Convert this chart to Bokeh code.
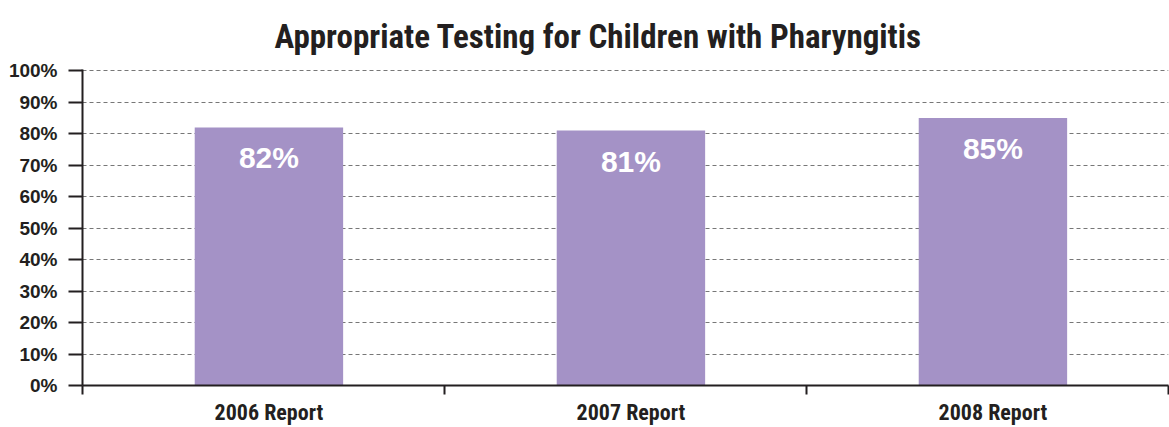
from bokeh.plotting import figure
from bokeh.models import FixedTicker, ColumnDataSource, Range1d, Title
from bokeh.core.properties import value
from bokeh.embed import file_html
from bokeh.resources import INLINE

# ---- data ----
categories = ["2006 Report", "2007 Report", "2008 Report"]
values = [82, 81, 85]
value_labels = ["82%", "81%", "85%"]
y_ticks = [0, 10, 20, 30, 40, 50, 60, 70, 80, 90, 100]
y_tick_labels = ["0%", "10%", "20%", "30%", "40%", "50%", "60%", "70%", "80%", "90%", "100%"]

BAR_SHIFT = 0.515
xs = [i + BAR_SHIFT for i in range(len(categories))]
src = ColumnDataSource(dict(x=xs, top=values, label=value_labels))

NARROW = "'Roboto Condensed', 'DejaVu Sans Condensed', 'Liberation Sans Narrow', sans-serif"
BAR_COLOR = "#a492c6"
INK = "#231f20"

p = figure(frame_width=1086, frame_height=316, output_backend="svg", toolbar_location=None,
           x_range=Range1d(0, 3), y_range=Range1d(0, 100.4),
           min_border_left=82, min_border_right=1, min_border_top=68, min_border_bottom=40)
p.outline_line_color = None
p.background_fill_color = "white"
p.border_fill_color = "white"

t = Title(text="Appropriate Testing for Children with Pharyngitis", align="left", offset=192,
          text_font=NARROW, text_font_size="33px", text_font_style="bold",
          text_color=INK, standoff=28)
p.add_layout(t, "above")

p.vbar(x="x", top="top", width=0.41, bottom=0, source=src, color=BAR_COLOR, line_color=None)
p.text(x="x", y="top", text="label", source=src, text_color="white",
       text_font=value("Liberation Sans"), text_font_style="bold", text_font_size="30px",
       text_align="center", text_baseline="top", y_offset=14)

# y axis
p.yaxis.ticker = FixedTicker(ticks=y_ticks, minor_ticks=[])
p.yaxis.major_label_overrides = {t_: l for t_, l in zip(y_ticks, y_tick_labels)}
p.yaxis.major_label_text_font = "Liberation Sans"
p.yaxis.major_label_text_font_style = "bold"
p.yaxis.major_label_text_font_size = "19px"
p.yaxis.major_label_text_color = INK
p.yaxis.axis_line_color = INK
p.yaxis.axis_line_width = 2
p.yaxis.major_tick_line_color = INK
p.yaxis.major_tick_line_width = 2
p.yaxis.major_tick_out = 14
p.yaxis.major_tick_in = 0
p.yaxis.major_label_standoff = 11

# x axis: labels at category centres, separators as minor ticks
p.xaxis.ticker = FixedTicker(ticks=xs, minor_ticks=[0, 1, 2, 3])
p.xaxis.major_label_overrides = {x: c for x, c in zip(xs, categories)}
p.xaxis.major_label_text_font = NARROW
p.xaxis.major_label_text_font_style = "bold"
p.xaxis.major_label_text_font_size = "22px"
p.xaxis.major_label_text_color = INK
p.xaxis.axis_line_color = INK
p.xaxis.axis_line_width = 2
p.xaxis.major_tick_line_color = None
p.xaxis.major_tick_out = 0
p.xaxis.major_tick_in = 0
p.xaxis.minor_tick_line_color = INK
p.xaxis.minor_tick_line_width = 2
p.xaxis.minor_tick_out = 9
p.xaxis.minor_tick_in = 0
p.xaxis.major_label_standoff = 5

p.xgrid.grid_line_color = None
p.ygrid.grid_line_color = "#777777"
p.ygrid.grid_line_dash = "4 3"
p.ygrid.grid_line_width = 1
p.ygrid.level = "underlay"

open("out.html", "w").write(file_html(p, INLINE))
